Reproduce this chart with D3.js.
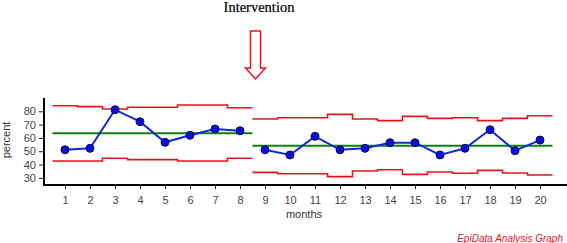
<!DOCTYPE html>
<html>
<head>
<meta charset="utf-8">
<script src="https://cdn.jsdelivr.net/npm/d3@7"></script>
<style>
  body { margin: 0; background: #fff; }
  text { font-family: "Liberation Sans", Arial, sans-serif; }
</style>
</head>
<body>
<div id="chart"></div>
<script>
// data
var months = [1, 2, 3, 4, 5, 6, 7, 8, 9, 10, 11, 12, 13, 14, 15, 16, 17, 18, 19, 20];
var percent = [51.1, 52.2, 81.2, 72.2, 56.7, 62.0, 66.7, 65.4, 51.1, 47.2, 61.2, 51.1, 52.2, 56.4, 56.4, 47.2, 52.2, 66.2, 50.4, 58.4];
var ucl = [84.2, 83.5, 81.7, 83.0, 83.0, 84.7, 84.7, 82.7, 74.2, 75.2, 75.2, 77.7, 74.2, 73.0, 76.2, 74.7, 75.2, 73.0, 74.7, 76.7];
var lcl = [42.7, 42.7, 44.7, 43.7, 43.7, 42.7, 42.7, 44.7, 34.1, 33.1, 33.1, 30.9, 35.1, 36.1, 32.6, 34.4, 33.4, 35.6, 33.6, 32.1];
var phaseEnd = [8, 20];          // last month of each phase
var centre = [63.5, 54.2];       // centre line per phase
var yTicks = [30, 40, 50, 60, 70, 80];

var width = 567, height = 243;

var svg = d3.select("#chart")
  .append("svg")
    .attr("width", width)
    .attr("height", height);

svg.append("rect").attr("width", width).attr("height", height).attr("fill", "#fff");

var x = d3.scaleLinear().domain([1, 20]).range([65, 540]);
var y = d3.scaleLinear().domain([25, 90]).range([184.5, 98]);

// split into phases
var phases = [];
var start = 0;
phaseEnd.forEach(function(e, k) {
  var idx = d3.range(start, e);
  phases.push({idx: idx, centre: centre[k]});
  start = e;
});

// step lines for control limits
function steps(vals, idx) {
  var pts = [];
  idx.forEach(function(i) {
    pts.push([months[i] - 0.5, vals[i]]);
    pts.push([months[i] + 0.5, vals[i]]);
  });
  return pts;
}
var line = d3.line().x(function(d) { return x(d[0]); }).y(function(d) { return y(d[1]); });

phases.forEach(function(p) {
  svg.append("path")
    .attr("d", line(steps(ucl, p.idx)))
    .attr("fill", "none").attr("stroke", "#e8141c").attr("stroke-width", 1.6);
  svg.append("path")
    .attr("d", line(steps(lcl, p.idx)))
    .attr("fill", "none").attr("stroke", "#e8141c").attr("stroke-width", 1.6);
  var m0 = months[p.idx[0]] - 0.5, m1 = months[p.idx[p.idx.length - 1]] + 0.5;
  svg.append("path")
    .attr("d", line([[m0, p.centre], [m1, p.centre]]))
    .attr("fill", "none").attr("stroke", "#108010").attr("stroke-width", 2);
  svg.append("path")
    .attr("d", line(p.idx.map(function(i) { return [months[i], percent[i]]; })))
    .attr("fill", "none").attr("stroke", "#1428d8").attr("stroke-width", 2);
  svg.selectAll(null)
    .data(p.idx)
    .enter().append("circle")
      .attr("cx", function(i) { return x(months[i]); })
      .attr("cy", function(i) { return y(percent[i]); })
      .attr("r", 4)
      .attr("fill", "#0a10d0")
      .attr("stroke", "#000a70")
      .attr("stroke-width", 1);
});

// axes
svg.append("line")
  .attr("x1", 44).attr("x2", 44).attr("y1", 98).attr("y2", 186)
  .attr("stroke", "#000").attr("stroke-width", 2);
svg.append("line")
  .attr("x1", 43).attr("x2", width).attr("y1", 185).attr("y2", 185)
  .attr("stroke", "#000").attr("stroke-width", 2);

var yAxis = svg.append("g")
  .attr("transform", "translate(43,0)")
  .call(d3.axisLeft(y).tickValues(yTicks).tickSize(4).tickPadding(3).tickSizeOuter(0));
yAxis.select(".domain").remove();

var xAxis = svg.append("g")
  .attr("transform", "translate(0,186)")
  .call(d3.axisBottom(x).tickValues(months).tickSize(3).tickPadding(7).tickSizeOuter(0));
xAxis.select(".domain").remove();

svg.selectAll(".tick text")
  .attr("font-family", "'Liberation Sans', Arial, sans-serif")
  .attr("font-size", 11)
  .attr("fill", "#444");
svg.selectAll(".tick line").attr("stroke", "#222");

// labels
svg.append("text")
  .attr("transform", "translate(10,140) rotate(-90)")
  .attr("text-anchor", "middle")
  .attr("font-size", 11)
  .attr("fill", "#333")
  .text("percent");

svg.append("text")
  .attr("x", 304).attr("y", 218)
  .attr("text-anchor", "middle")
  .attr("font-size", 11)
  .attr("fill", "#333")
  .text("months");

svg.append("text")
  .attr("x", 563).attr("y", 242)
  .attr("text-anchor", "end")
  .attr("font-size", 10)
  .attr("font-style", "italic")
  .attr("fill", "#e8141c")
  .text("EpiData Analysis Graph");

// intervention annotation
var ax = x(8.5) + 3;
svg.append("text")
  .attr("x", ax + 3.5).attr("y", 12)
  .attr("text-anchor", "middle")
  .style("font-family", "'Liberation Serif', 'Times New Roman', serif")
  .attr("font-size", 14.5)
  .attr("fill", "#000")
  .attr("stroke", "#000")
  .attr("stroke-width", 0.2)
  .text("Intervention");

svg.append("path")
  .attr("d", "M" + (ax - 5) + ",31 H" + (ax + 5) + " V68 H" + (ax + 10) +
             " L" + ax + ",79 L" + (ax - 10) + ",68 H" + (ax - 5) + " Z")
  .attr("fill", "#fff")
  .attr("stroke", "#e8141c")
  .attr("stroke-width", 1.5);
</script>
</body>
</html>
